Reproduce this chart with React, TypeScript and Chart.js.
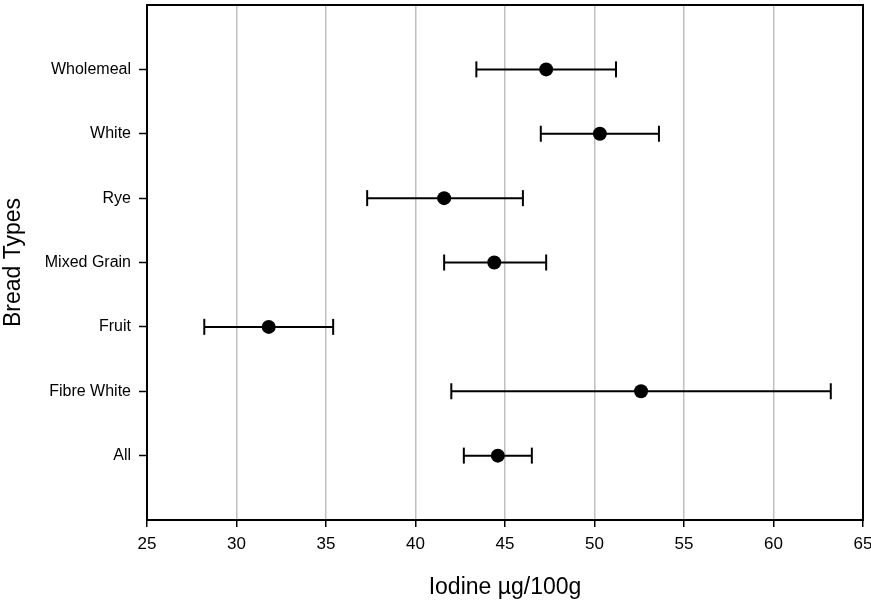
import React, { useEffect, useRef } from "react";
import { Chart, registerables } from "chart.js";

Chart.register(...registerables);

const categories = ["Wholemeal", "White", "Rye", "Mixed Grain", "Fruit", "Fibre White", "All"];
const means = [47.3, 50.3, 41.6, 44.4, 31.8, 52.6, 44.6];
const lows = [43.4, 47.0, 37.3, 41.6, 28.2, 42.0, 42.7];
const highs = [51.2, 53.6, 46.0, 47.3, 35.4, 63.2, 46.5];
const xTicks = [25, 30, 35, 40, 45, 50, 55, 60, 65];

const FONT = "'Liberation Sans', Arial, sans-serif";

// category i is placed at position (n - i) on the vertical scale
const positions = categories.map((_, i) => categories.length - i);

const zeroPad = () => ({ left: 0, top: 0, right: 0, bottom: 0 });

const boxPlugin = {
  id: "frameBox",
  afterDatasetsDraw(chart: any) {
    const { ctx, chartArea } = chart;
    ctx.save();
    ctx.strokeStyle = "#000";
    ctx.lineWidth = 2;
    ctx.strokeRect(chartArea.left, chartArea.top, chartArea.right - chartArea.left, chartArea.bottom - chartArea.top);
    ctx.restore();
  },
};

export default function App() {
  const ref = useRef<HTMLCanvasElement | null>(null);

  useEffect(() => {
    if (!ref.current) return;
    const errorSets = categories.map((c, i) => ({
      label: c + " range",
      data: [
        { x: lows[i], y: positions[i] },
        { x: highs[i], y: positions[i] },
      ],
      showLine: true,
      borderColor: "#000",
      borderWidth: 2,
      pointStyle: "line" as const,
      pointRotation: 90,
      pointRadius: 8,
      pointBorderWidth: 2,
      pointBorderColor: "#000",
      pointBackgroundColor: "#000",
      order: 2,
    }));
    const chart = new Chart(ref.current, {
      type: "scatter",
      data: {
        datasets: [
          {
            label: "Mean",
            data: categories.map((c, i) => ({ x: means[i], y: positions[i] })),
            pointRadius: 7,
            pointBackgroundColor: "#000",
            pointBorderColor: "#000",
            pointBorderWidth: 0,
            order: 0,
          },
          ...errorSets,
        ],
      },
      options: {
        responsive: false,
        animation: false,
        events: [],
        layout: { autoPadding: false, padding: { top: 5, right: 8, left: 0, bottom: 0 } },
        plugins: { legend: { display: false }, tooltip: { enabled: false } },
        scales: {
          x: {
            type: "linear",
            min: 25,
            max: 65,
            afterBuildTicks: (scale: any) => {
              scale.ticks = xTicks.map((v) => ({ value: v }));
            },
            afterFit: (scale: any) => {
              scale.height = 81;
              scale.paddingLeft = 0;
              scale.paddingRight = 0;
              scale.getPadding = zeroPad;
            },
            ticks: {
              color: "#000",
              font: { family: FONT, size: 17 },
              padding: 7,
              maxRotation: 0,
            },
            grid: {
              color: "#c0c0c0",
              lineWidth: 1.5,
              tickColor: "#000",
              tickWidth: 1.5,
              tickLength: 7,
            },
            border: { display: true, color: "#000", width: 2 },
            title: {
              display: true,
              text: "Iodine µg/100g",
              color: "#000",
              font: { family: FONT, size: 23 },
              padding: { top: 0, bottom: 0 },
            },
          },
          y: {
            type: "linear",
            min: 0,
            max: categories.length + 1,
            afterBuildTicks: (scale: any) => {
              scale.ticks = positions.map((v) => ({ value: v }));
            },
            afterFit: (scale: any) => {
              scale.width = 147;
              scale.paddingTop = 0;
              scale.paddingBottom = 0;
              scale.getPadding = zeroPad;
            },
            ticks: {
              color: "#000",
              font: { family: FONT, size: 16 },
              padding: 8,
              callback: (v: any) => {
                const idx = positions.indexOf(Number(v));
                return idx >= 0 ? categories[idx] : "";
              },
            },
            grid: {
              drawOnChartArea: false,
              tickColor: "#000",
              tickWidth: 1.5,
              tickLength: 8,
            },
            border: { display: true, color: "#000", width: 2 },
            title: {
              display: true,
              text: "Bread Types",
              color: "#000",
              font: { family: FONT, size: 23 },
              padding: { top: 0, bottom: 0 },
            },
          },
        },
      },
      plugins: [boxPlugin],
    });
    return () => chart.destroy();
  }, []);

  return (
    <div style={{ position: "absolute", left: 0, top: 0, width: 871, height: 601, background: "#fff" }}>
      <canvas ref={ref} width={871} height={601} style={{ display: "block" }} />
    </div>
  );
}
